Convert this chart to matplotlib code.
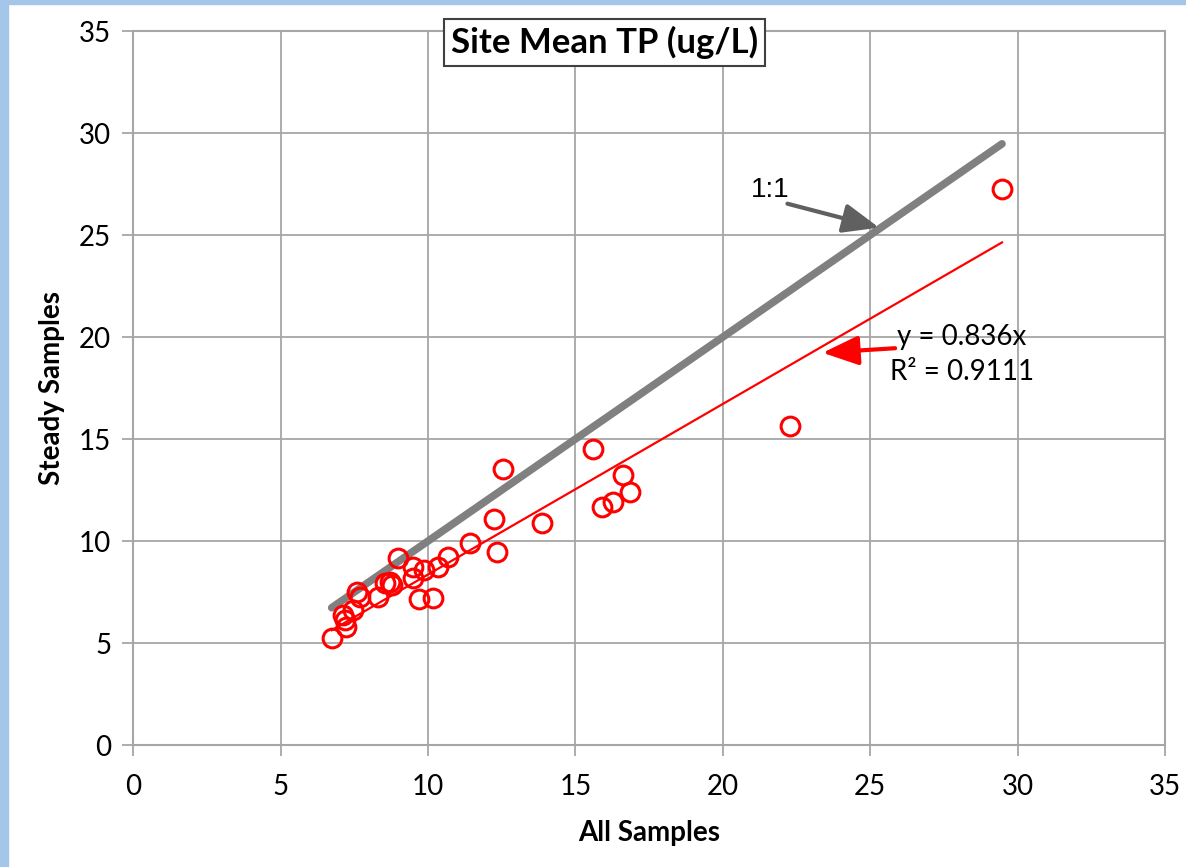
import numpy as np
import matplotlib
matplotlib.use('Agg')
from matplotlib import pyplot as plt
from matplotlib.patches import Rectangle

# site means
all_samples = [6.73, 7.12, 7.18, 7.22, 7.46, 7.58, 7.69, 8.31, 8.54, 8.71,
               8.77, 8.99, 9.50, 9.50, 9.70, 9.86, 10.18, 10.35, 10.69, 11.42,
               12.34, 12.25, 12.55, 13.85, 15.60, 15.89, 16.28, 16.60, 16.85,
               22.28, 29.47]
steady_samples = [5.23, 6.37, 6.13, 5.80, 6.62, 7.51, 7.27, 7.27, 7.93, 8.00,
                  7.84, 9.15, 8.74, 8.17, 7.14, 8.58, 7.23, 8.74, 9.23, 9.89,
                  9.48, 11.06, 13.51, 10.90, 14.50, 11.68, 11.93, 13.24, 12.39,
                  15.64, 27.25]
slope = 0.836
r2 = 0.9111
ticks = [0, 5, 10, 15, 20, 25, 30, 35]

FONT = 'Lato'
GRID = '#a6a6a6'


def main():
    fig = plt.figure(figsize=(11.86, 8.67), dpi=100)
    ax = fig.add_axes([0.1124, 0.1407, 0.8699, 0.8235])

    x = np.array(all_samples)
    xl = np.array([x.min(), x.max()])

    ax.plot(xl, xl, color='#808080', lw=5.5, solid_capstyle='round', zorder=3)
    ax.plot(xl, slope * xl, color='red', lw=1.6, zorder=3)
    ax.plot(x, steady_samples, 'o', ms=13.5, mfc='none', mec='red', mew=2.2, zorder=4)

    ax.set_xlim(0, 35)
    ax.set_ylim(0, 35)
    ax.set_xticks(ticks)
    ax.set_yticks(ticks)
    ax.grid(True, color=GRID, lw=1.3)
    ax.set_axisbelow(True)
    for s in ax.spines.values():
        s.set_color(GRID)
        s.set_linewidth(1.5)
    ax.tick_params(length=8, width=1.3, color=GRID, labelsize=20, pad=8)
    ax.tick_params(axis='x', pad=13)
    for lab in ax.get_xticklabels() + ax.get_yticklabels():
        lab.set_fontfamily(FONT)

    ax.set_xlabel('All Samples', fontsize=20, fontweight='bold', family=FONT, labelpad=14)
    ax.set_ylabel('Steady Samples', fontsize=20, fontweight='bold', family=FONT, labelpad=10)

    fig.text(0.51, 0.951, 'Site Mean TP (ug/L)', ha='center', va='center',
             fontsize=25, fontweight='bold', family=FONT,
             bbox=dict(boxstyle='square,pad=0.2', fc='white', ec='#404040', lw=1.5))

    # 1:1 label and arrow
    ax.text(21.6, 27.2, '1:1', fontsize=20, family='Liberation Sans',
            ha='center', va='center')
    ax.annotate('', xy=(25.39, 25.33), xytext=(22.1, 26.57),
                arrowprops=dict(arrowstyle='-|>,head_length=2.2,head_width=0.9',
                                color='#606060', lw=3), zorder=5)

    # trendline equation and arrow
    ax.text(28.1, 20.0, 'y = %.3fx' % slope, fontsize=20, family=FONT,
            ha='center', va='center')
    ax.text(28.1, 18.28, 'R² = %.4f' % r2, fontsize=20, family=FONT,
            ha='center', va='center')
    ax.annotate('', xy=(23.29, 19.22), xytext=(25.94, 19.46),
                arrowprops=dict(arrowstyle='-|>,head_length=2.2,head_width=0.9',
                                color='red', lw=3), zorder=5)

    # light blue frame from the screenshot
    fig.patches.append(Rectangle((0, 0), 8 / 1186, 1, transform=fig.transFigure,
                                 color='#a4c6e9', zorder=10))
    fig.patches.append(Rectangle((0, 1 - 4 / 867), 1, 4 / 867, transform=fig.transFigure,
                                 color='#a4c6e9', zorder=10))

    fig.savefig('out.png', dpi=100)


if __name__ == '__main__':
    main()
